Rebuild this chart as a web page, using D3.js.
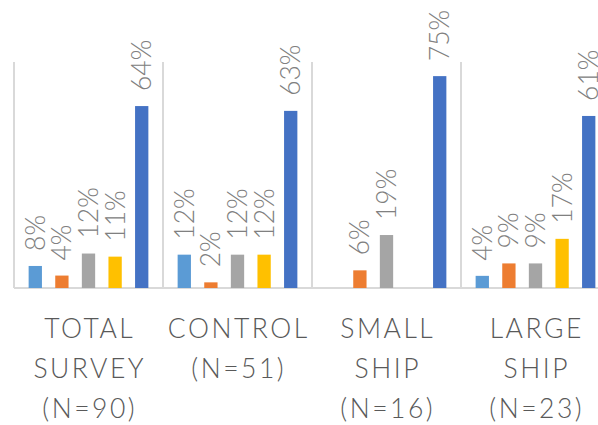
<!DOCTYPE html>
<html>
<head>
<meta charset="utf-8">
<script src="https://cdn.jsdelivr.net/npm/d3@7"></script>
<style>
  body { margin: 0; background: #fff; }
  svg { display: block; }
</style>
</head>
<body>
<svg width="598" height="425"></svg>
<script>
// groups and their wrapped labels
const groups = ["total", "control", "small", "large"];
const groupLabels = [
  ["TOTAL", "SURVEY", "(N=90)"],
  ["CONTROL", "(N=51)"],
  ["SMALL", "SHIP", "(N=16)"],
  ["LARGE", "SHIP", "(N=23)"]
];
const series = ["s1", "s2", "s3", "s4", "s5"];
const colors = ["#5B9BD5", "#ED7D31", "#A5A5A5", "#FFC000", "#4472C4"];

// share of respondents per series, one array per group
const totalSurvey = [0.078, 0.044, 0.122, 0.111, 0.644];
const control = [0.118, 0.020, 0.118, 0.118, 0.627];
const smallShip = [0, 0.0625, 0.1875, 0, 0.75];
const largeShip = [0.043, 0.087, 0.087, 0.174, 0.609];
const values = [totalSurvey, control, smallShip, largeShip];

const svg = d3.select("svg");
const baseY = 288;
const font = "Lato, 'Open Sans', sans-serif";

const x0 = d3.scaleBand().domain(groups).range([14, 610]).padding(0);
const x1 = d3.scaleBand().domain(series).range([0, x0.bandwidth()])
  .paddingInner(0.5).paddingOuter(0.55);
const y = d3.scaleLinear().domain([0, 0.8]).range([baseY, 62]);
const fmt = d3.format(".0%");

// separators between groups
svg.append("g").selectAll("line")
  .data(groups)
  .join("line")
  .attr("x1", d => x0(d)).attr("x2", d => x0(d))
  .attr("y1", y(0.8)).attr("y2", baseY)
  .attr("stroke", "#D9D9D9").attr("stroke-width", 2);

// baseline
svg.append("line")
  .attr("x1", 14).attr("x2", 610)
  .attr("y1", baseY).attr("y2", baseY)
  .attr("stroke", "#D9D9D9").attr("stroke-width", 2);

const g = svg.append("g").selectAll("g")
  .data(groups)
  .join("g")
  .attr("transform", d => `translate(${x0(d)},0)`);

const cells = g.selectAll("g")
  .data((d, i) => values[i].map((v, j) => ({ key: series[j], v, j })))
  .join("g");

cells.filter(d => d.v > 0).append("rect")
  .attr("x", d => x1(d.key))
  .attr("width", x1.bandwidth())
  .attr("y", d => y(d.v))
  .attr("height", d => baseY - y(d.v))
  .attr("fill", d => colors[d.j]);

cells.filter(d => d.v > 0).append("text")
  .attr("transform", d => `translate(${x1(d.key) + x1.bandwidth() / 2},${y(d.v) - 15}) rotate(-90)`)
  .attr("dy", "0.36em")
  .attr("font-family", font)
  .attr("font-weight", 300)
  .attr("font-size", 26.5)
  .attr("fill", "#808080")
  .text(d => fmt(d.v));

// category labels, centred under each group
const ls = 2.5;
svg.append("g").selectAll("text")
  .data(groups)
  .join("text")
  .attr("text-anchor", "middle")
  .attr("font-family", font)
  .attr("font-weight", 300)
  .attr("font-size", 26.5)
  .attr("fill", "#595959")
  .attr("letter-spacing", ls)
  .selectAll("tspan")
  .data((d, i) => groupLabels[i].map(t => ({ t, c: x0(d) + x0.bandwidth() / 2 })))
  .join("tspan")
  .attr("x", d => d.c + ls / 2)
  .attr("y", (d, i) => 338 + i * 40)
  .text(d => d.t);
</script>
</body>
</html>
